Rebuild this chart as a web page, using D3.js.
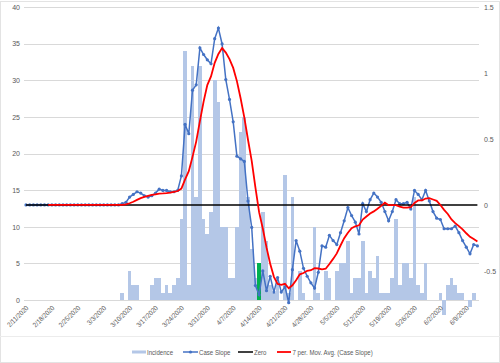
<!DOCTYPE html>
<html>
<head>
<meta charset="utf-8">
<script src="https://cdn.jsdelivr.net/npm/d3@7"></script>
<style>
  body { margin: 0; background: #fff; }
  text { font-family: 'Liberation Sans', sans-serif; fill: #595959; }
</style>
</head>
<body>
<div id="chart"></div>
<script>
'use strict';

// one category per day, 2/11/2020 .. 6/12/2020
const startDay = new Date(2020, 1, 11);
const categories = d3.timeDay.range(startDay, d3.timeDay.offset(startDay, 123))
  .map(d => `${d.getMonth() + 1}/${d.getDate()}/${d.getFullYear()}`);

const tickLabels = ['2/11/2020', '2/18/2020', '2/25/2020', '3/3/2020', '3/10/2020', '3/17/2020',
  '3/24/2020', '3/31/2020', '4/7/2020', '4/14/2020', '4/21/2020', '4/28/2020', '5/5/2020',
  '5/12/2020', '5/19/2020', '5/26/2020', '6/2/2020', '6/9/2020'];

const leftTicks = [0, 5, 10, 15, 20, 25, 30, 35, 40];
const rightTicks = [-0.5, 0, 0.5, 1, 1.5];

// daily new cases (left axis)
const incidence = [
  0, 0, 0, 0, 0, 0, 0, 0, 0, 0, 0, 0, 0, 0, 0, 0, 0, 0, 0, 0, 0, 0, 0, 0, 0, 0,
  1, 0, 4, 2, 2, 0, 0, 0, 2, 3, 3, 1, 2, 1, 2, 3,
  11, 34, 2, 32, 14, 32, 11, 9, 12, 30, 27, 10, 10, 3, 3, 10, 23, 25, 14, 7, 3,
  5, 12, 8, 2, 1, 2, 0, 17, 1, 14, 0, 4, 1, 0, 0, 10, 1, 0, 4, 3, 0, 4, 5, 5,
  8, 1, 3, 3, 8, 1, 4, 3, 6, 1, 1, 1, 3, 11, 2, 5, 5, 3, 14, 2, 1, 5, 0, 0, 0,
  1, -2, 2, 3, 2, 1, 1, 0, -1, 1, 0
];

// slope of the case curve (right axis)
const caseSlope = [
  0, 0, 0, 0, 0, 0, 0, 0, 0, 0, 0, 0, 0, 0, 0, 0, 0, 0, 0, 0, 0, 0, 0, 0, 0, 0,
  0.01, 0.02, 0.06, 0.08, 0.10, 0.09, 0.07, 0.06, 0.07, 0.09, 0.12, 0.11, 0.11, 0.10, 0.10, 0.11,
  0.22, 0.61, 0.54, 0.87, 0.91, 1.19, 1.14, 1.10, 1.07, 1.26, 1.34, 1.22, 0.95, 0.80, 0.63,
  0.37, 0.35, 0.33, 0.03, -0.17, -0.61, -0.68, -0.50, -0.65, -0.54, -0.66, -0.55, -0.66,
  -0.62, -0.74, -0.49, -0.27, -0.35, -0.48, -0.54, -0.59, -0.63, -0.51, -0.31, -0.32,
  -0.23, -0.27, -0.30, -0.21, -0.12, -0.02, -0.08, -0.13, -0.22, 0.01, -0.05, 0.04, 0.09,
  0.06, 0.02, -0.05, -0.12, -0.05, 0.04, 0.01, 0.01, 0.02, -0.03, 0.11, 0.08, 0.04, 0.11,
  0.03, -0.05, -0.10, -0.11, -0.18, -0.18, -0.18, -0.16, -0.21, -0.27, -0.32, -0.37, -0.30, -0.31
];

const highlightDay = '4/14/2020';

// Excel trendline: 7 period trailing moving average of caseSlope
const movAvg = caseSlope.map((v, i) => i < 6 ? null : d3.mean(caseSlope.slice(i - 6, i + 1)));

const width = 500, height = 363;

const svg = d3.select('#chart').append('svg')
    .attr('width', width)
    .attr('height', height);

const x = d3.scaleBand().domain(categories).range([24.15, 479.25]).padding(0);
const yL = d3.scaleLinear().domain([0, 40]).range([300, 7]);
const yR = d3.scaleLinear().domain([-0.72, 1.5]).range([300, 7]);
const cx = c => x(c) + x.bandwidth() / 2;

// chart border bits
svg.append('rect')
    .attr('x', 0.5).attr('y', 1.5).attr('width', width - 1).attr('height', height - 2)
    .style('fill', 'none').style('stroke', '#e3e3e3');
svg.append('line')
    .attr('x1', 0).attr('x2', width).attr('y1', 336.5).attr('y2', 336.5)
    .style('stroke', '#ececec');

// gridlines
svg.append('g').selectAll('line')
    .data(leftTicks)
  .enter().append('line')
    .attr('x1', 24).attr('x2', 479)
    .attr('y1', d => Math.round(yL(d)) + 0.5)
    .attr('y2', d => Math.round(yL(d)) + 0.5)
    .style('stroke', '#d9d9d9');

// left axis
const axL = svg.append('g')
    .attr('transform', 'translate(24,0)')
    .call(d3.axisLeft(yL).tickValues(leftTicks).tickSize(0).tickPadding(4));
axL.select('.domain').remove();
axL.selectAll('text').attr('font-size', 7).attr('font-family', null);

// right axis
const axR = svg.append('g')
    .attr('transform', 'translate(479,0)')
    .call(d3.axisRight(yR).tickValues(rightTicks).tickFormat(d => String(d)).tickSize(0).tickPadding(5));
axR.select('.domain').remove();
axR.selectAll('text').attr('font-size', 7).attr('font-family', null);

// incidence bars
svg.append('g').selectAll('rect')
    .data(categories)
  .enter().append('rect')
    .attr('x', c => x(c))
    .attr('width', x.bandwidth())
    .attr('y', (c, i) => yL(Math.max(0, incidence[i])))
    .attr('height', (c, i) => Math.abs(yL(incidence[i]) - yL(0)))
    .style('shape-rendering', 'crispEdges')
    .style('fill', c => c === highlightDay ? '#00b050' : '#b4c7e7');

// x labels (narrowed a little to mimic Calibri)
svg.append('g').selectAll('text')
    .data(tickLabels)
  .enter().append('text')
    .attr('transform', c => `translate(${cx(c) + 3},${308.5}) rotate(-45) scale(0.88,1)`)
    .attr('text-anchor', 'end')
    .attr('font-size', 7)
    .text(c => c);

// case slope line + markers
const slopeLine = d3.line()
    .x((d, i) => cx(categories[i]))
    .y(d => yR(d));

svg.append('path')
    .datum(caseSlope)
    .attr('d', slopeLine)
    .style('fill', 'none')
    .style('stroke', '#4472c4')
    .style('stroke-width', 1.5);

svg.append('g').selectAll('circle')
    .data(caseSlope)
  .enter().append('circle')
    .attr('cx', (d, i) => cx(categories[i]))
    .attr('cy', d => yR(d))
    .attr('r', 1.6)
    .style('fill', '#4472c4');

// zero line
svg.append('path')
    .datum(categories)
    .attr('d', d3.line().x(c => cx(c)).y(() => yR(0)))
    .style('fill', 'none')
    .style('stroke', '#000')
    .style('stroke-width', 1.5);

// moving average trendline
svg.append('path')
    .datum(movAvg)
    .attr('d', d3.line()
      .defined(d => d !== null)
      .x((d, i) => cx(categories[i]))
      .y(d => yR(d)))
    .style('fill', 'none')
    .style('stroke', '#ff0000')
    .style('stroke-width', 1.8);

// legend
const legend = svg.append('g').attr('transform', 'translate(0,352)');
const legendText = (lx, label) => legend.append('text')
    .attr('transform', `translate(${lx},2.5) scale(0.87,1)`)
    .attr('font-size', 7)
    .text(label);

legend.append('rect')
    .attr('x', 132).attr('y', -1.5).attr('width', 14).attr('height', 3)
    .style('fill', '#b4c7e7');
legendText(147, 'Incidence');

legend.append('line')
    .attr('x1', 183).attr('x2', 198).attr('y1', 0).attr('y2', 0)
    .style('stroke', '#4472c4').style('stroke-width', 1.5);
legend.append('circle')
    .attr('cx', 190.5).attr('cy', 0).attr('r', 1.6)
    .style('fill', '#4472c4');
legendText(199, 'Case Slope');

legend.append('line')
    .attr('x1', 238).attr('x2', 253).attr('y1', 0).attr('y2', 0)
    .style('stroke', '#000').style('stroke-width', 1.5);
legendText(254, 'Zero');

legend.append('line')
    .attr('x1', 277).attr('x2', 291).attr('y1', 0).attr('y2', 0)
    .style('stroke', '#ff0000').style('stroke-width', 1.8);
legendText(292.5, '7 per. Mov. Avg. (Case Slope)');
</script>
</body>
</html>
